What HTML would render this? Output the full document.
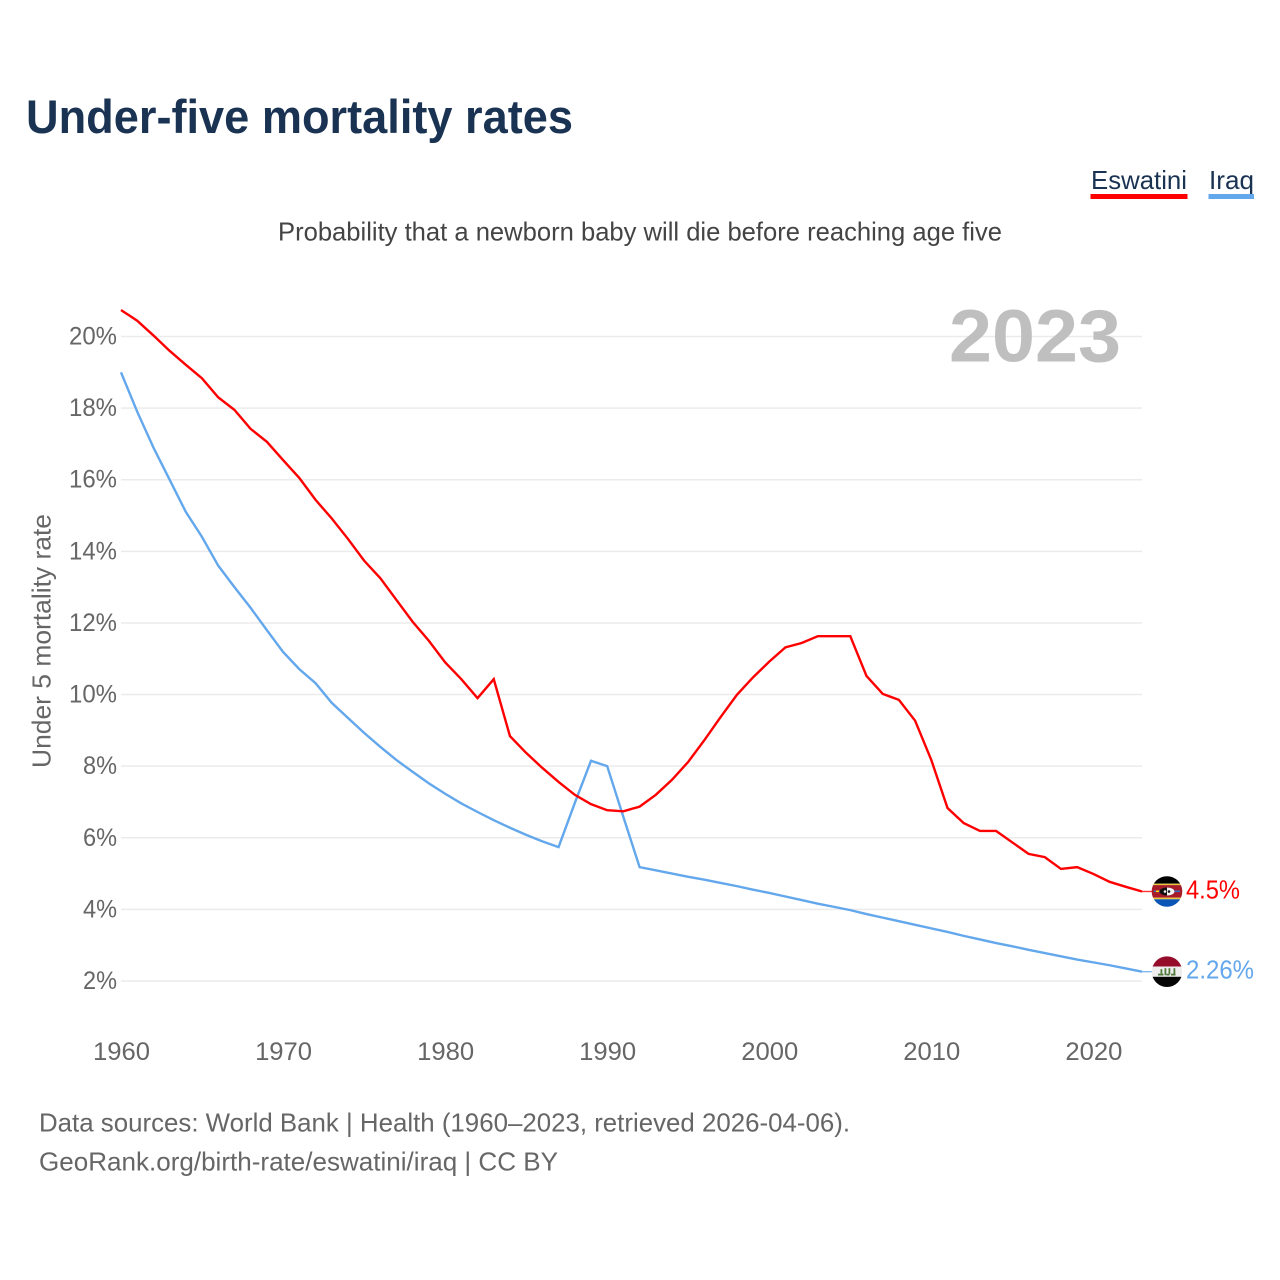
<!DOCTYPE html>
<html lang="en">
<head>
<meta charset="utf-8">
<title>Under-five mortality rates</title>
<style>
html,body{margin:0;padding:0;background:#fff;}
svg{display:block;font-family:"Liberation Sans",sans-serif;}
</style>
</head>
<body>
<svg id="chart" xmlns="http://www.w3.org/2000/svg" width="1280" height="1280" viewBox="0 0 1280 1280">
  <rect width="1280" height="1280" fill="#fff"/>
  <text x="26" y="133" font-size="47" font-weight="700" fill="#1a3353" textLength="547" lengthAdjust="spacingAndGlyphs">Under-five mortality rates</text>
  <g>
    <g>
      <text x="1091" y="189" font-size="26" fill="#1a3353" textLength="96" lengthAdjust="spacingAndGlyphs">Eswatini</text>
      <rect x="1090.500" y="194" width="97" height="5" fill="#ff0000"/>
    </g>
    <g>
      <text x="1209" y="189" font-size="26" fill="#1a3353" textLength="45" lengthAdjust="spacingAndGlyphs">Iraq</text>
      <rect x="1208.500" y="194" width="45.500" height="5" fill="#63a7ec"/>
    </g>
  </g>
  <text x="278" y="240.500" font-size="26" fill="#444" textLength="724" lengthAdjust="spacingAndGlyphs">Probability that a newborn baby will die before reaching age five</text>
  <g id="grid"></g>
  <text x="949" y="361.500" font-size="74" font-weight="700" fill="#bfbfbf" textLength="172" lengthAdjust="spacingAndGlyphs">2023</text>
  <g id="yticks"></g>
  <g id="xticks"></g>
  <text transform="translate(50.500 768) rotate(-90)" font-size="26" fill="#666" textLength="254" lengthAdjust="spacingAndGlyphs">Under 5 mortality rate</text>
  <g id="series"></g>
  <g id="endmarks"></g>
  <g>
    <text x="39" y="1131.500" font-size="26" fill="#666" textLength="811" lengthAdjust="spacingAndGlyphs">Data sources: World Bank | Health (1960–2023, retrieved 2026-04-06).</text>
    <text x="39" y="1170.500" font-size="26" fill="#666" textLength="519" lengthAdjust="spacingAndGlyphs">GeoRank.org/birth-rate/eswatini/iraq | CC BY</text>
  </g>
  <defs>
    <clipPath id="flag-clip"><circle cx="0" cy="0" r="15.300"/></clipPath>
  </defs>
</svg>
<script>
const years = [1960,1961,1962,1963,1964,1965,1966,1967,1968,1969,1970,1971,1972,1973,1974,1975,1976,1977,1978,1979,1980,1981,1982,1983,1984,1985,1986,1987,1988,1989,1990,1991,1992,1993,1994,1995,1996,1997,1998,1999,2000,2001,2002,2003,2004,2005,2006,2007,2008,2009,2010,2011,2012,2013,2014,2015,2016,2017,2018,2019,2020,2021,2022,2023];
const eswatiniValues = [20.74,20.44,20.03,19.6,19.21,18.83,18.3,17.95,17.42,17.06,16.55,16.05,15.44,14.92,14.35,13.74,13.25,12.64,12.03,11.5,10.9,10.43,9.9,10.43,8.84,8.37,7.95,7.56,7.2,6.94,6.77,6.74,6.87,7.2,7.62,8.12,8.73,9.37,9.99,10.48,10.92,11.32,11.44,11.63,11.63,11.63,10.52,10.02,9.85,9.27,8.17,6.83,6.41,6.19,6.19,5.87,5.55,5.46,5.13,5.18,4.99,4.77,4.63,4.5];
const iraqValues = [19.0,17.9,16.9,16.0,15.1,14.4,13.6,13.0,12.42,11.8,11.19,10.71,10.32,9.77,9.35,8.93,8.54,8.17,7.84,7.52,7.23,6.96,6.72,6.49,6.28,6.08,5.9,5.74,6.97,8.15,8.0,6.58,5.18,5.09,5.0,4.91,4.83,4.74,4.65,4.55,4.46,4.36,4.26,4.16,4.07,3.98,3.87,3.77,3.67,3.57,3.47,3.37,3.26,3.16,3.06,2.97,2.87,2.78,2.69,2.6,2.52,2.44,2.35,2.26];
const yTickValues = [2,4,6,8,10,12,14,16,18,20];
const xTickYears = [1960,1970,1980,1990,2000,2010,2020];

const NS = 'http://www.w3.org/2000/svg';
const X0 = 121, X1 = 1142, Y2 = 981, Y20 = 336.5;
function xScale(year){ return X0 + (year - 1960) * (X1 - X0) / 63; }
function yScale(v){ return Y2 - (v - 2) * (Y2 - Y20) / 18; }
function make(tag, parent, attrs){
  const el = document.createElementNS(NS, tag);
  for (const k in attrs) el.setAttribute(k, attrs[k]);
  parent.appendChild(el);
  return el;
}
const gridG = document.getElementById('grid');
const yG = document.getElementById('yticks');
const xG = document.getElementById('xticks');
const seriesG = document.getElementById('series');
const endG = document.getElementById('endmarks');

yTickValues.forEach(function(v){
  const line = make('line', gridG, {x1:X0, x2:X1, y1:yScale(v), y2:yScale(v), stroke:'#ebebeb', 'stroke-width':1.5});
  
  
  const t = make('text', yG, {x:117, y:yScale(v)+8, 'text-anchor':'end', 'font-size':25, fill:'#666',
    textLength: v >= 10 ? 48 : 34, lengthAdjust:'spacingAndGlyphs'});
  t.textContent = v + '%';
  
  
});

xTickYears.forEach(function(yr){
  const t = make('text', xG, {x:xScale(yr)+0.5, y:1060, 'text-anchor':'middle', 'font-size':25, fill:'#666',
    textLength:57, lengthAdjust:'spacingAndGlyphs'});
  t.textContent = String(yr);
  
  
});

function pathFor(values){
  return values.map(function(v, i){
    return (i ? 'L' : 'M') + xScale(years[i]).toFixed(2) + ' ' + yScale(v).toFixed(2);
  }).join('');
}

const iraqPath = make('path', seriesG, {d:pathFor(iraqValues), fill:'none', stroke:'#63a7ec', 'stroke-width':2.4, 'stroke-linejoin':'miter'});


const eswPath = make('path', seriesG, {d:pathFor(eswatiniValues), fill:'none', stroke:'#ff0000', 'stroke-width':2.4, 'stroke-linejoin':'miter'});



function leader(values, color){
  const y = yScale(values[values.length-1]);
  return make('line', endG, {x1:X1, x2:1154, y1:y, y2:y, stroke:color, 'stroke-width':1.4, opacity:0.8});
}
const leaderE = leader(eswatiniValues, '#ff0000');


const leaderI = leader(iraqValues, '#63a7ec');



function rects(parent, list){
  list.forEach(function(r){
    const el = make('rect', parent, {x:r[0], y:r[1], width:r[2], height:r[3], fill:r[4]});
    
    
  });
}

// Eswatini flag
const eFlag = make('g', endG, {transform:'translate(1167 ' + yScale(eswatiniValues[eswatiniValues.length-1]).toFixed(2) + ')', 'clip-path':'url(#flag-clip)'});


rects(eFlag, [
  [-16,-16,32,8.2,'#000000'],
  [-16,-7.8,32,1.4,'#e8c838'],
  [-16,-6.4,32,12.6,'#a81c2a'],
  [-16,6.2,32,1.6,'#e8c838'],
  [-16,7.8,32,8.5,'#0a55b5'],
  [-13,-1,26,1.6,'#3a6fc0'],
  [-11,-1,3,1.6,'#ffd900']
]);
const eShieldB = make('ellipse', eFlag, {cx:0, cy:0, rx:7.5, ry:4, fill:'#111'});


const eShieldW = make('path', eFlag, {d:'M0 -4A7.500 4 0 0 1 0 4Z', fill:'#f4f4f4'});


const eDotW = make('circle', eFlag, {cx:-2, cy:0, r:1.3, fill:'#f4f4f4'});


const eDotB = make('circle', eFlag, {cx:2, cy:0, r:1.3, fill:'#111'});



// Iraq flag
const iFlag = make('g', endG, {transform:'translate(1167 ' + yScale(iraqValues[iraqValues.length-1]).toFixed(2) + ')', 'clip-path':'url(#flag-clip)'});


rects(iFlag, [
  [-16,-16,32,10.8,'#960d2b'],
  [-16,-5.2,32,10.3,'#eeeeee'],
  [-16,5.1,32,11,'#050505'],
  [-9,2,5.5,1.8,'#4f7a3c'],
  [-6.5,-2.5,1.8,4.5,'#4f7a3c'],
  [-2.5,-3.5,1.8,7,'#4f7a3c'],
  [-0.5,2,3,1.8,'#4f7a3c'],
  [1.5,-3.5,1.8,6,'#4f7a3c'],
  [4,2,4.5,1.8,'#4f7a3c'],
  [6.5,-3.5,1.8,6,'#4f7a3c']
]);

function endLabel(values, color, width){
  const last = values[values.length-1];
  const t = make('text', endG, {x:1186, y:yScale(last)+7, 'font-size':26, fill:color, textLength:width, lengthAdjust:'spacingAndGlyphs'});
  t.textContent = last + '%';
  return t;
}
const labelE = endLabel(eswatiniValues, '#ff0000', 54);


const labelI = endLabel(iraqValues, '#63a7ec', 68);


</script>
</body>
</html>
